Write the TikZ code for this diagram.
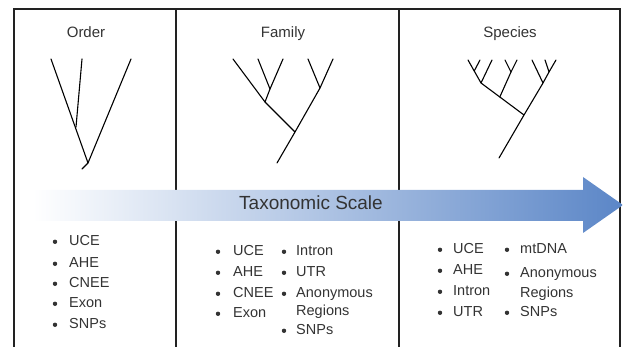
\documentclass[tikz,border=0pt]{standalone}
\usepackage{fontspec}
\setmainfont{Liberation Sans}
\definecolor{ink}{HTML}{333333}
\definecolor{rule}{HTML}{222222}
\definecolor{arrowblue}{RGB}{91,134,199}
% one bulleted entry: name, bullet x, text x, baseline y, text
\newcommand\entry[5]{%
  \node[item] (#1) at (#3,#4) {#5};
  \fill[ink] (#2,#4-3.2) circle (2.2pt);}
\begin{document}
\begin{tikzpicture}[x=1pt,y=-1pt,
  frame/.style={draw=rule, line width=1.2pt},
  divider/.style={draw=rule, line width=1.8pt},
  branch/.style={draw=black, line width=1.1pt, line cap=round, line join=round},
  title/.style={font=\fontsize{15}{18}\selectfont, text=ink, inner sep=0},
  item/.style={font=\fontsize{14.5}{18}\selectfont, text=ink, inner sep=0, anchor=base west},
  scalelabel/.style={font=\fontsize{19}{22}\selectfont, text=ink, inner sep=0},
]
\useasboundingbox (0,0) rectangle (623,347);

% panel frame
\draw[frame] (14,347) -- (14,9) -- (620,9) -- (620,347);
\draw[divider] (176,9) -- (176,347);
\draw[frame] (399,9) -- (399,347);

% panel titles
\node[title] (tOrder) at (86,32) {Order};
\node[title] (tFamily) at (283,34) {Family};
\node[title] (tSpecies) at (510,34) {Species};

% order-level tree
\draw[branch] (51,59) -- (88,163) -- (82,169);
\draw[branch] (82,59) -- (76,127);
\draw[branch] (131,59) -- (88,163);

% family-level tree
\coordinate (fa) at (270,89);
\coordinate (fb) at (265,102);
\coordinate (fc) at (320,88);
\coordinate (fr) at (295,132);
\draw[branch] (233,59) -- (fb) -- (fr) -- (277,163);
\draw[branch] (258,59) -- (fa) -- (fb);
\draw[branch] (283,59) -- (fa);
\draw[branch] (308,59) -- (fc) -- (fr);
\draw[branch] (333,59) -- (fc);

% species-level tree
\coordinate (sa) at (481,83);
\coordinate (saa) at (474.2,71);
\coordinate (sb) at (511,72);
\coordinate (sm) at (499.8,97);
\coordinate (sc) at (549,72);
\coordinate (sd) at (543,83);
\coordinate (sr) at (524,115);
\draw[branch] (468,60) -- (sa) -- (sr) -- (499,158);
\draw[branch] (480,60) -- (saa);
\draw[branch] (492,60) -- (sa);
\draw[branch] (505,60) -- (sb) -- (sm);
\draw[branch] (517,60) -- (sb);
\draw[branch] (532,60) -- (sd) -- (sr);
\draw[branch] (545,60) -- (sc) -- (sd);
\draw[branch] (556,60) -- (sc);

% taxonomic scale arrow
\shade[left color=white, right color=arrowblue]
  (33,190) -- (583,190) -- (583,177) -- (623,205) -- (583,233) -- (583,221) -- (33,221) -- cycle;
\node[scalelabel] (scale) at (311,203) {Taxonomic Scale};

% order markers
\entry{o1}{55}{69}{245}{UCE}
\entry{o2}{55}{69}{267}{AHE}
\entry{o3}{55}{69}{287}{CNEE}
\entry{o4}{55}{69}{307}{Exon}
\entry{o5}{55}{69}{328}{SNPs}

% family markers
\entry{f1}{218}{233}{255}{UCE}
\entry{f2}{218}{233}{276}{AHE}
\entry{f3}{218}{233}{297}{CNEE}
\entry{f4}{218}{233}{317}{Exon}
\entry{f5}{284}{296}{255}{Intron}
\entry{f6}{284}{296}{276}{UTR}
\entry{f7}{284}{296}{297}{Anonymous}
\node[item] (f7b) at (296,315) {Regions};
\entry{f8}{284}{296}{334}{SNPs}

% species markers
\entry{s1}{440}{453}{253}{UCE}
\entry{s2}{440}{453}{274}{AHE}
\entry{s3}{440}{453}{295}{Intron}
\entry{s4}{440}{453}{316}{UTR}
\entry{s5}{507}{520}{253}{mtDNA}
\entry{s6}{507}{520}{277}{Anonymous}
\node[item] (s6b) at (520,297) {Regions};
\entry{s7}{507}{520}{316}{SNPs}
\end{tikzpicture}
\end{document}
